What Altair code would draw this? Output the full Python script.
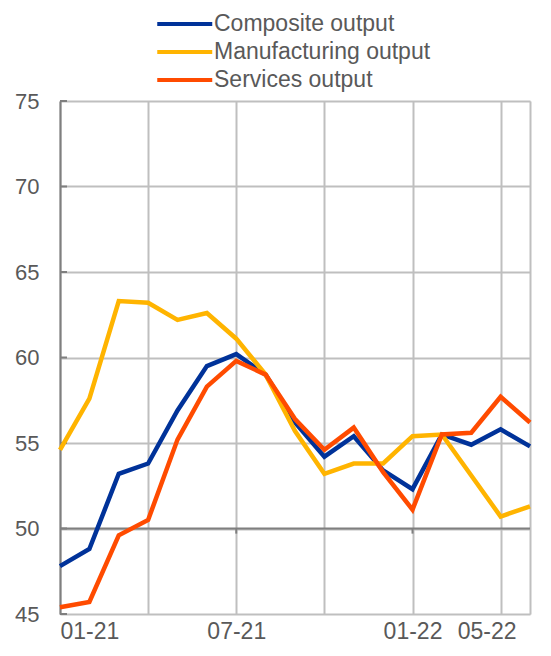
import altair as alt
import pandas as pd

months = ["01-21", "02-21", "03-21", "04-21", "05-21", "06-21", "07-21", "08-21", "09-21",
          "10-21", "11-21", "12-21", "01-22", "02-22", "03-22", "04-22", "05-22"]
composite = [47.8, 48.8, 53.2, 53.8, 56.9, 59.5, 60.2, 59.0, 56.2, 54.2, 55.4, 53.4, 52.3, 55.5, 54.9, 55.8, 54.8]
manufacturing = [54.6, 57.6, 63.3, 63.2, 62.2, 62.6, 61.1, 59.0, 55.7, 53.2, 53.8, 53.8, 55.4, 55.5, 53.1, 50.7, 51.3]
services = [45.4, 45.7, 49.6, 50.5, 55.2, 58.3, 59.8, 59.0, 56.4, 54.6, 55.9, 53.3, 51.1, 55.5, 55.6, 57.7, 56.2]

series_names = ["Composite output", "Manufacturing output", "Services output"]
series_colors = ["#003299", "#ffb400", "#ff4b00"]
y_ticks = [45, 50, 55, 60, 65, 70, 75]
x_label_months = ["01-21", "07-21", "01-22", "05-22"]
x_grid_months = ["01-21", "04-21", "07-21", "10-21", "01-22", "04-22", "05-22"]
x_tick_months = ["07-21", "01-22"]
baseline = [50]

rows = []
for name, vals in zip(series_names, [composite, manufacturing, services]):
    for i, (m, v) in enumerate(zip(months, vals)):
        rows.append({"series": name, "t": i, "month": m, "value": v})
df = pd.DataFrame(rows)

grid_idx = [months.index(m) for m in x_grid_months]
label_idx = [months.index(m) for m in x_label_months]
label_expr = "".join(f"datum.value == {i} ? '{m}' : " for i, m in zip(label_idx, x_label_months)) + "''"
last_idx = len(months) - 1

TXT = "#595959"
FONT = "Liberation Sans"
DARK = "#7f7f7f"
LIGHT = "#bfbfbf"

x_scale = alt.Scale(domain=[0, last_idx], nice=False, zero=False)
y_scale = alt.Scale(domain=[y_ticks[0], y_ticks[-1]], nice=False, zero=False)

lines = alt.Chart(df).mark_line(strokeWidth=4.5).encode(
    x=alt.X("t:Q", scale=x_scale, title=None,
            axis=alt.Axis(values=grid_idx, labelExpr=label_expr, grid=True, gridColor=LIGHT,
                          gridWidth=2, ticks=False, domain=False, labelFontSize=23,
                          labelColor=TXT, labelFont=FONT, labelPadding=6,
                          labelOffset={"condition": {"test": f"datum.value == {last_idx}", "value": -14}, "value": 0})),
    y=alt.Y("value:Q", scale=y_scale, title=None,
            axis=alt.Axis(values=y_ticks, grid=True, gridColor=LIGHT, gridWidth=2, ticks=False,
                          domainColor=DARK, domainWidth=2, labelFontSize=22, labelColor=TXT,
                          labelFont=FONT, labelPadding=21)),
    color=alt.Color("series:N", scale=alt.Scale(domain=series_names, range=series_colors),
                    legend=alt.Legend(title=None, orient="none", legendX=95, legendY=-93,
                                      symbolType="M-1,0H3", symbolSize=756, symbolStrokeWidth=4,
                                      labelFontSize=23, labelColor=TXT, labelFont=FONT,
                                      labelLimit=0, labelOffset=27, rowPadding=0)),
    order=alt.Order("t:Q"),
)

base_rule = alt.Chart(pd.DataFrame({"y": baseline})).mark_rule(color=DARK, strokeWidth=2).encode(
    y=alt.Y("y:Q", scale=y_scale)
)

tick_df = pd.DataFrame({"t": [months.index(m) for m in x_tick_months], "y": baseline * len(x_tick_months)})
x_ticks = alt.Chart(tick_df).mark_rule(color=DARK, strokeWidth=2).encode(
    x=alt.X("t:Q", scale=x_scale),
    y=alt.Y("y:Q", scale=y_scale),
    y2=alt.Y2("y2:Q"),
).transform_calculate(y2="datum.y - 0.3")

y_tick_marks = alt.Chart(pd.DataFrame({"y": y_ticks})).mark_rule(color=DARK, strokeWidth=2).encode(
    y=alt.Y("y:Q", scale=y_scale),
    x=alt.value(0),
    x2=alt.value(7),
)

chart = alt.layer(base_rule, x_ticks, y_tick_marks, lines).properties(
    width=470, height=513,
    padding={"left": 52, "top": 93, "right": 12, "bottom": 30},
    autosize=alt.AutoSizeParams(type="none"),
).configure_view(stroke=LIGHT, strokeWidth=2).configure(background="white")

chart.save("out.html", embed_options={"renderer": "svg", "actions": False})
